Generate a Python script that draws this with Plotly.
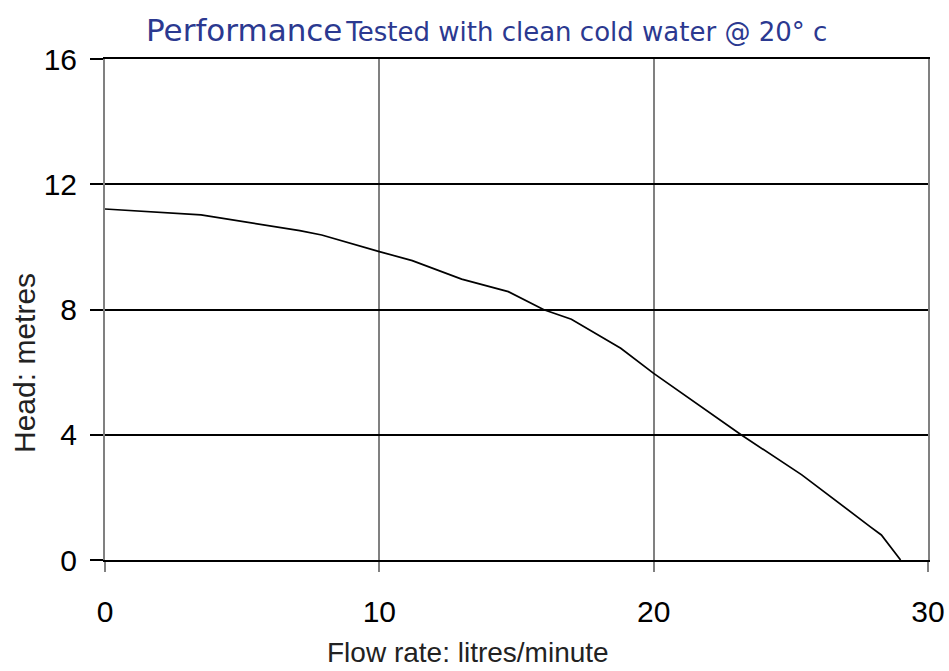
import plotly.graph_objects as go

flow = [0, 3.5, 7.1, 7.9, 10, 11.2, 13.0, 14.7, 16.0, 17.0, 18.8, 20.0, 23.2, 25.4, 27.9, 28.3, 29.0]
head = [11.21, 11.02, 10.52, 10.38, 9.85, 9.56, 8.97, 8.57, 7.99, 7.69, 6.76, 5.96, 3.99, 2.72, 1.06, 0.8, 0.0]
x_ticks = [0, 10, 20, 30]
y_ticks = [0, 4, 8, 12, 16]

L, R, T, B = 105, 21, 59, 111
W, H = 949, 671
pw, ph = W - L - R, H - T - B

fig = go.Figure()
fig.add_trace(go.Scatter(x=flow, y=head, mode="lines", line=dict(color="black", width=1.7)))

fig.update_layout(
    width=W, height=H,
    margin=dict(l=L, r=R, t=T, b=B),
    paper_bgcolor="white", plot_bgcolor="white",
    showlegend=False,
    font=dict(family="Liberation Sans, Arial", color="black"),
)
fig.update_xaxes(
    range=[0, 30], tickvals=x_ticks, ticks="outside", ticklen=10, tickcolor="#808080", tickwidth=2,
    showgrid=True, gridcolor="#808080", gridwidth=2,
    showline=True, linecolor="black", linewidth=2, mirror=True,
    tickfont=dict(size=30), zeroline=False, automargin=False, ticklabelstandoff=14,
)
fig.update_yaxes(
    range=[0, 16], tickvals=y_ticks, ticks="outside", ticklen=13, tickcolor="black", tickwidth=2,
    showgrid=True, gridcolor="black", gridwidth=1.5,
    showline=True, linecolor="#808080", linewidth=2, mirror=True,
    tickfont=dict(size=30), zeroline=False, automargin=False, ticklabelstandoff=7,
)
fig.add_annotation(
    xref="paper", yref="paper", x=(144 - L) / pw, y=1 + (T - 50) / ph,
    xanchor="left", yanchor="bottom", showarrow=False,
    text="<span style='font-size:31px'>Performance</span> <span style='font-size:26px'>Tested with clean cold water @ 20° c</span>",
    font=dict(family="DejaVu Sans", color="#2b3990"),
)
fig.add_annotation(
    xref="paper", yref="paper", x=(468 - L) / pw, y=-(652 - T - ph) / ph,
    xanchor="center", yanchor="middle", showarrow=False,
    text="Flow rate: litres/minute", font=dict(size=28, color="#222222"),
)
fig.add_annotation(
    xref="paper", yref="paper", x=(24 - L) / pw, y=(T + ph - 363) / ph,
    xanchor="center", yanchor="middle", showarrow=False, textangle=-90,
    text="Head: metres", font=dict(size=30, color="#222222"),
)

fig.write_html("out.html", config={"displayModeBar": False},
               post_script="document.body.style.margin='0';document.body.style.overflow='hidden';")
